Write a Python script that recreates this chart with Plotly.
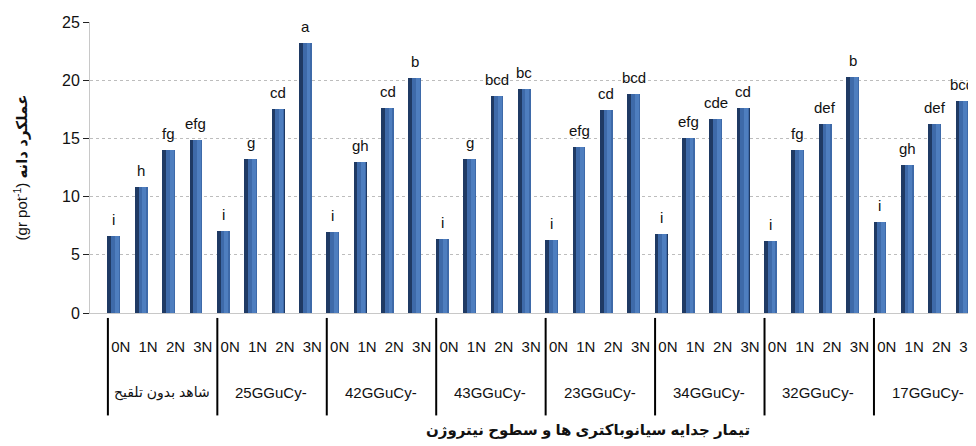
import plotly.graph_objects as go

groups = ["شاهد بدون تلقیح", "25GGuCy-", "42GGuCy-", "43GGuCy-",
          "23GGuCy-", "34GGuCy-", "32GGuCy-", "17GGuCy-"]
levels = ["0N", "1N", "2N", "3N"]
values = [
    [6.6, 10.8, 14.05, 14.9],
    [7.08, 13.27, 17.5, 23.2],
    [7.0, 12.96, 17.6, 20.2],
    [6.38, 13.24, 18.65, 19.26],
    [6.3, 14.27, 17.47, 18.79],
    [6.8, 15.05, 16.64, 17.6],
    [6.19, 14.05, 16.28, 20.26],
    [7.86, 12.71, 16.28, 18.23],
]
letters = [
    ["i", "h", "fg", "efg"],
    ["i", "g", "cd", "a"],
    ["i", "gh", "cd", "b"],
    ["i", "g", "bcd", "bc"],
    ["i", "efg", "cd", "bcd"],
    ["i", "efg", "cde", "cd"],
    ["i", "fg", "def", "b"],
    ["i", "gh", "def", "bcd"],
]
y_ticks = [0, 5, 10, 15, 20, 25]

xs, ys, txt = [], [], []
for g, row in enumerate(values):
    for j, v in enumerate(row):
        xs.append(4 * g + j)
        ys.append(v)
        txt.append(letters[g][j])

FONT = "Arial, Liberation Sans, DejaVu Sans, sans-serif"
fig = go.Figure()
# cylinder-like bar: dark full bar, lighter face
fig.add_trace(go.Bar(x=xs, y=ys, width=0.47, offset=-0.235,
                     marker=dict(color="#1f3a64", line=dict(width=0)),
                     hoverinfo="skip", showlegend=False))
fig.add_trace(go.Bar(x=xs, y=ys, width=0.33, offset=-0.10,
                     marker=dict(color="#3e6aa9", line=dict(width=0)),
                     showlegend=False))
fig.add_trace(go.Bar(x=xs, y=ys, width=0.14, offset=0.04,
                     marker=dict(color="#4e7ebf", line=dict(width=0)),
                     hoverinfo="skip", showlegend=False))

for x, y, t in zip(xs, ys, txt):
    fig.add_annotation(x=x, y=y, text=t, showarrow=False, xref="x", yref="y",
                       yanchor="bottom", yshift=6,
                       font=dict(family=FONT, size=15, color="#111"))

# x tick labels (N levels)
tickvals = [x + 0.25 for x in xs]
ticktext = [levels[j] for g in range(len(groups)) for j in range(4)]

# group separators and group labels
for g, name in enumerate(groups):
    sx = 4 * g - 0.22
    fig.add_shape(type="line", xref="x", yref="paper", x0=sx, x1=sx,
                  y0=-0.017, y1=-0.352, line=dict(color="black", width=2))
    fig.add_annotation(x=4 * g + 1.75, y=-0.274, xref="x", yref="paper",
                       text=name, showarrow=False, yanchor="middle",
                       font=dict(family=FONT, size=15 if g else 14, color="#111"))

fig.add_annotation(x=0.564, y=-0.401, xref="paper", yref="paper",
                   text="<b>تیمار جدایه سیانوباکتری ها و سطوح نیتروژن</b>",
                   showarrow=False, yanchor="middle",
                   font=dict(family=FONT, size=15, color="#111"))

fig.update_layout(
    width=976, height=446,
    margin=dict(l=82, r=8, t=6, b=141),
    paper_bgcolor="white", plot_bgcolor="white",
    barmode="overlay", bargap=0,
    font=dict(family=FONT, size=15, color="#111"),
    xaxis=dict(range=[-0.874, 31.40], tickvals=tickvals, ticktext=ticktext,
               ticks="outside", ticklen=20, tickcolor="rgba(0,0,0,0)",
               showgrid=False, zeroline=False, showline=True,
               linecolor="#c8c8c8", linewidth=1,
               tickfont=dict(family=FONT, size=15, color="#111")),
    yaxis=dict(range=[0, 25.02], tickvals=y_ticks, ticks="outside", ticklen=6,
               tickcolor="#222", showgrid=True, gridcolor="#bdbdbd",
               griddash="dot", zeroline=False, showline=True,
               linecolor="#c8c8c8", linewidth=1, ticklabeloverflow="allow",
               tickfont=dict(family=FONT, size=16, color="#111"),
               title=dict(text="(gr pot<sup>-1</sup>) <b>عملکرد دانه</b>",
                          font=dict(family=FONT, size=15, color="#111"),
                          standoff=30)),
)

fig.write_html("out.html")
